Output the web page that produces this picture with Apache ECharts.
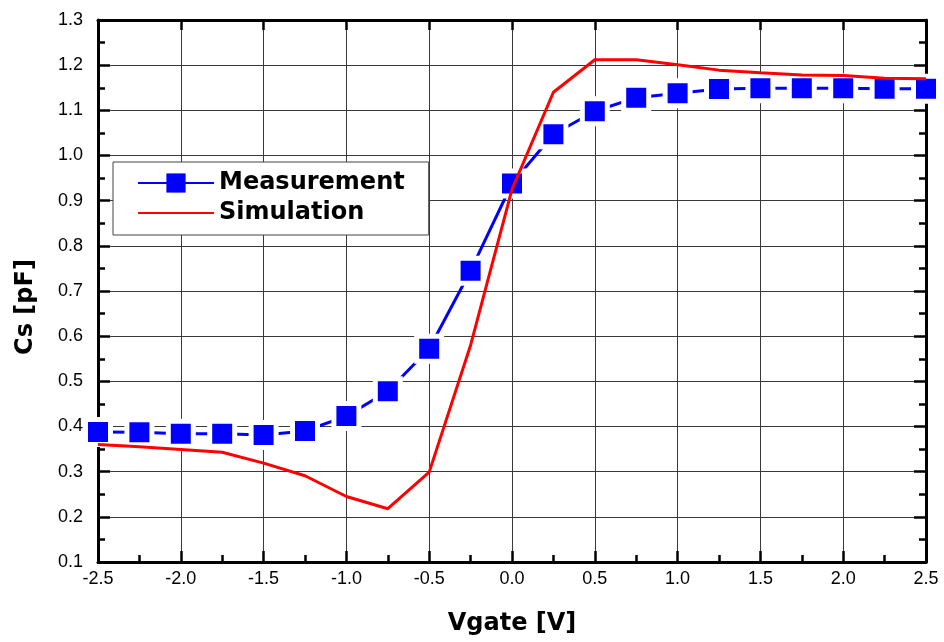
<!DOCTYPE html>
<html>
<head>
<meta charset="utf-8">
<script src="https://cdn.jsdelivr.net/npm/echarts@6/dist/echarts.min.js"></script>
<style>
  html, body { margin: 0; padding: 0; background: #fff; }
  #chart { width: 944px; height: 642px; }
</style>
</head>
<body>
<div id="chart"></div>
<script>
// Gate voltage sweep (V)
const vgate = [-2.5, -2.25, -2.0, -1.75, -1.5, -1.25, -1.0, -0.75, -0.5, -0.25,
               0.0, 0.25, 0.5, 0.75, 1.0, 1.25, 1.5, 1.75, 2.0, 2.25, 2.5];
// Measured capacitance Cs (pF)
const measurement = [0.388, 0.387, 0.384, 0.384, 0.381, 0.390, 0.423, 0.478, 0.572, 0.745,
                     0.938, 1.047, 1.098, 1.128, 1.138, 1.147, 1.149, 1.149, 1.149, 1.148, 1.148];
// Simulated capacitance Cs (pF)
const simulation = [0.360, 0.355, 0.349, 0.343, 0.319, 0.291, 0.245, 0.218, 0.299, 0.580,
                    0.925, 1.140, 1.212, 1.212, 1.201, 1.189, 1.183, 1.178, 1.177, 1.171, 1.170];
const seriesNames = ['Measurement', 'Simulation'];
const xTitle = 'Vgate [V]';
const yTitle = 'Cs [pF]';

const pairs = (ys) => vgate.map((x, i) => [x, ys[i]]);
const fmt1 = (v) => v.toFixed(1);

const frameLine = { show: true, onZero: false, lineStyle: { color: '#000', width: 3 } };
const gridLine = { show: true, lineStyle: { color: '#3a3a3a', width: 1 } };
const tickFont = { color: '#000', fontSize: 18, fontFamily: 'Liberation Sans, Arial, sans-serif' };
const titleFont = { color: '#000', fontSize: 24, fontWeight: 'bold', fontFamily: 'DejaVu Sans, sans-serif' };

const chart = echarts.init(document.getElementById('chart'), null, { renderer: 'canvas' });
chart.setOption({
  animation: false,
  backgroundColor: '#fff',
  grid: { left: 98, right: 18, top: 20, bottom: 80 },
  legend: {
    orient: 'vertical',
    left: 113,
    top: 162,
    padding: [9, 24, 10, 24],
    itemWidth: 76,
    itemHeight: 24,
    itemGap: 6,
    backgroundColor: '#fff',
    borderColor: '#444',
    borderWidth: 1,
    borderRadius: 0,
    textStyle: { color: '#000', fontSize: 24, fontWeight: 'bold', fontFamily: 'DejaVu Sans, sans-serif', lineHeight: 24 },
    data: [
      { name: seriesNames[0], itemStyle: { borderWidth: 0 } },
      { name: seriesNames[1], itemStyle: { color: 'transparent', borderWidth: 0 } }
    ]
  },
  xAxis: [
    {
      type: 'value', min: -2.5, max: 2.5, interval: 0.5, position: 'bottom',
      name: xTitle, nameLocation: 'middle', nameGap: 50, nameTextStyle: titleFont,
      axisLine: frameLine,
      axisTick: { show: true, inside: true, length: 11, lineStyle: { color: '#000', width: 2.5 } },
      minorTick: { show: true, splitNumber: 2, length: 7, lineStyle: { color: '#000', width: 2.5 } },
      axisLabel: { formatter: fmt1, margin: 8, ...tickFont },
      splitLine: gridLine
    },
    {
      type: 'value', min: -2.5, max: 2.5, interval: 0.5, position: 'top',
      axisLine: frameLine,
      axisTick: { show: true, inside: true, length: 10, lineStyle: { color: '#000', width: 2.5 } },
      axisLabel: { show: false },
      splitLine: { show: false }
    }
  ],
  yAxis: [
    {
      type: 'value', min: 0.1, max: 1.3, interval: 0.1, position: 'left',
      name: yTitle, nameLocation: 'middle', nameGap: 60, nameRotate: 90,
      nameTextStyle: { ...titleFont, padding: [0, 32, 0, 0] },
      axisLine: frameLine,
      axisTick: { show: true, inside: true, length: 12, lineStyle: { color: '#000', width: 2.5 } },
      minorTick: { show: true, splitNumber: 2, length: 7, lineStyle: { color: '#000', width: 2.5 } },
      axisLabel: { formatter: fmt1, margin: 15, ...tickFont },
      splitLine: gridLine
    },
    {
      type: 'value', min: 0.1, max: 1.3, interval: 0.1, position: 'right',
      axisLine: frameLine,
      axisTick: { show: true, inside: true, length: 12, lineStyle: { color: '#000', width: 2.5 } },
      minorTick: { show: true, splitNumber: 2, length: 7, lineStyle: { color: '#000', width: 2.5 } },
      axisLabel: { show: false },
      splitLine: { show: false }
    }
  ],
  series: [
    {
      name: seriesNames[0],
      type: 'line',
      data: pairs(measurement),
      symbol: 'rect',
      symbolSize: 25,
      showAllSymbol: true,
      lineStyle: { color: '#0000ff', width: 3 },
      itemStyle: { color: '#0000ff', borderColor: '#fff', borderWidth: 5 },
      z: 3
    },
    {
      name: seriesNames[1],
      type: 'line',
      data: pairs(simulation),
      symbol: 'none',
      lineStyle: { color: '#ff0000', width: 3 },
      itemStyle: { color: '#ff0000' },
      z: 4
    }
  ]
});
</script>
</body>
</html>
